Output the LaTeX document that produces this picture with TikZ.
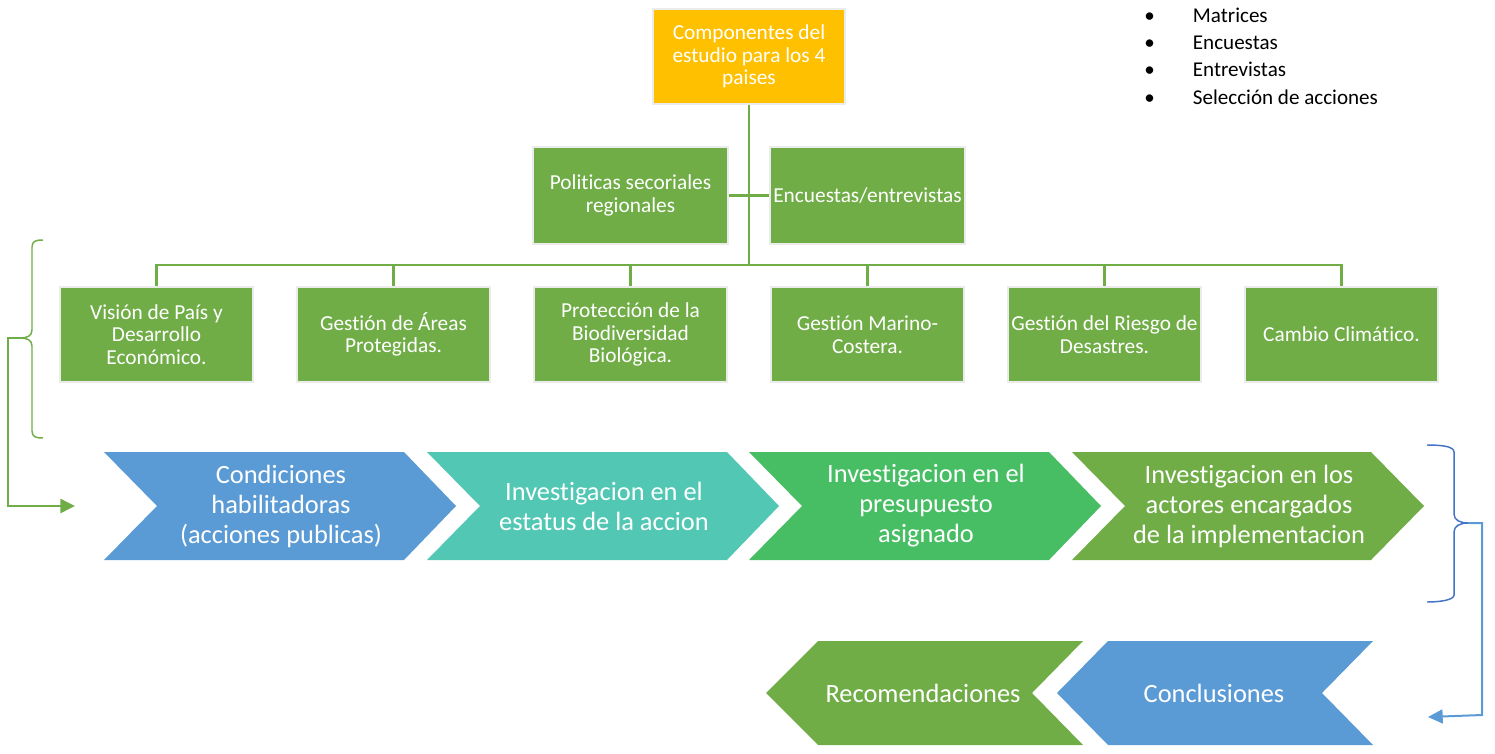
\documentclass[tikz,border=0pt]{standalone}
\usepackage{fontspec}
\setmainfont{Carlito}[Ligatures={NoCommon}]
\usetikzlibrary{arrows.meta}
\definecolor{cgreen}{HTML}{70AD47}
\definecolor{cyellow}{HTML}{FFC000}
\definecolor{cblue}{HTML}{5B9BD5}
\definecolor{cteal}{HTML}{52C8B4}
\definecolor{cgreentwo}{HTML}{48BE64}
\definecolor{cbrace}{HTML}{4472C4}
\begin{document}
\begin{tikzpicture}[x=0.75pt,y=-0.75pt,
  box/.style={rectangle, fill=cgreen, draw=black!8, line width=1.1pt,
    minimum width=144.75pt, minimum height=71.25pt, inner sep=0pt,
    text=white, align=center, font=\fontsize{16}{16.9}\selectfont},
  chtext/.style={text=white, align=center, inner sep=0pt,
    font=\fontsize{19.8}{22.5}\selectfont},
  tree/.style={draw=cgreen, line width=2pt},
  bul/.style={anchor=base west, inner sep=0pt, text=black,
    font=\fontsize{15.8}{18}\selectfont},
  gbrace/.style={draw=cgreen, line width=1.1pt},
  bbrace/.style={draw=cbrace, line width=1.1pt}
]
\useasboundingbox (0,0) rectangle (1495,753);

% ---------- tree ----------
\node[box, fill=cyellow, minimum width=144pt] (top) at (749,56.5)
  {Componentes del\\estudio para los 4\\paises};
\node[box, minimum width=146.25pt, minimum height=72.75pt] (pol) at (630.5,195.5)
  {Politicas secoriales\\regionales};
\node[box, minimum width=146.25pt, minimum height=72.75pt] (enc) at (867.5,195.5)
  {Encuestas/entrevistas};

\node[box] (b1) at (156.5,334.5) {Visión de País y\\Desarrollo\\Económico.};
\node[box] (b2) at (393.5,334.5) {Gestión de Áreas\\Protegidas.};
\node[box] (b3) at (630.5,334.5) {Protección de la\\Biodiversidad\\Biológica.};
\node[box] (b4) at (867.5,334.5) {Gestión Marino-\\Costera.};
\node[box] (b5) at (1104.5,334.5) {Gestión del Riesgo de\\Desastres.};
\node[box] (b6) at (1341.5,334.5) {Cambio Climático.};

\coordinate (bar) at (749,265);
\draw[tree] (top.south) -- (bar);
\draw[tree] (pol.east) -- (enc.west);
\foreach \b in {b1,b2,b3,b4,b5,b6}{
  \draw[tree] (bar) -| (\b.north);
}

% ---------- bullets ----------
\node[bul] (l1) at (1144,22) {\makebox[36.5pt][l]{•}Matrices};
\node[bul] (l2) at (1144,49.3) {\makebox[36.5pt][l]{•}Encuestas};
\node[bul] (l3) at (1144,76.6) {\makebox[36.5pt][l]{•}Entrevistas};
\node[bul] (l4) at (1144,104) {\makebox[36.5pt][l]{•}Selección de acciones};

% ---------- chevrons row 1 ----------
\fill[cblue] (104,452) -- (404,452) -- (456,506) -- (404,560) -- (104,560) -- (157,506) -- cycle;
\node[chtext] (c1) at (281,506) {Condiciones\\habilitadoras\\(acciones publicas)};
\fill[cteal] (427,452) -- (727,452) -- (779,506) -- (727,560) -- (427,560) -- (480,506) -- cycle;
\node[chtext] (c2) at (604,506) {Investigacion en el\\estatus de la accion};
\fill[cgreentwo] (749,452) -- (1049,452) -- (1101,506) -- (1049,560) -- (749,560) -- (802,506) -- cycle;
\node[chtext] (c3) at (926,506) {Investigacion en el\\presupuesto\\asignado};
\fill[cgreen] (1072,452) -- (1371,452) -- (1424,506) -- (1371,560) -- (1072,560) -- (1125,506) -- cycle;
\node[chtext] (c4) at (1249,506) {Investigacion en los\\actores encargados\\de la implementacion};

% ---------- chevrons row 2 ----------
\fill[cgreen] (766,693) -- (818,641) -- (1083,641) -- (1032,693) -- (1083,745) -- (818,745) -- cycle;
\node[chtext] (rec) at (923,693) {Recomendaciones};
\fill[cblue] (1057,693) -- (1108,641) -- (1373,641) -- (1322,693) -- (1373,745) -- (1108,745) -- cycle;
\node[chtext] (con) at (1214,693) {Conclusiones};

% ---------- left brace and arrow ----------
\coordinate (lbtip) at (20,338);
\coordinate (lbtop) at (43,240);
\coordinate (lbbot) at (43,438);
\coordinate (arrL) at (75,506);
\draw[gbrace] (lbtop) .. controls (36,240) and (32,241) .. (32,247)
  -- (32,330) .. controls (32,336) and (27,338) .. (lbtip)
  .. controls (27,338) and (32,340) .. (32,346)
  -- (32,431) .. controls (32,437) and (36,438) .. (lbbot);
\draw[draw=cgreen, line width=1.9pt, -{Triangle[length=11pt,width=10.5pt]}]
  (lbtip) -- (8,338) |- (arrL);

% ---------- right brace and arrow ----------
\coordinate (rbtip) at (1468,523);
\coordinate (rbtop) at (1427,445);
\coordinate (rbbot) at (1427,602);
\coordinate (arrR) at (1428,717);
\draw[bbrace] (rbtop) .. controls (1440,445) and (1454,446) .. (1454,452)
  -- (1454,514) .. controls (1454,520) and (1460,523) .. (rbtip)
  .. controls (1460,523) and (1454,526) .. (1454,532)
  -- (1454,595) .. controls (1454,600) and (1440,602) .. (rbbot);
\draw[draw=cblue, line width=1.5pt, -{Triangle[length=11pt,width=10.5pt]}]
  (rbtip) -- (1482,523) -- (1482,715) -- (arrR);
\end{tikzpicture}
\end{document}
